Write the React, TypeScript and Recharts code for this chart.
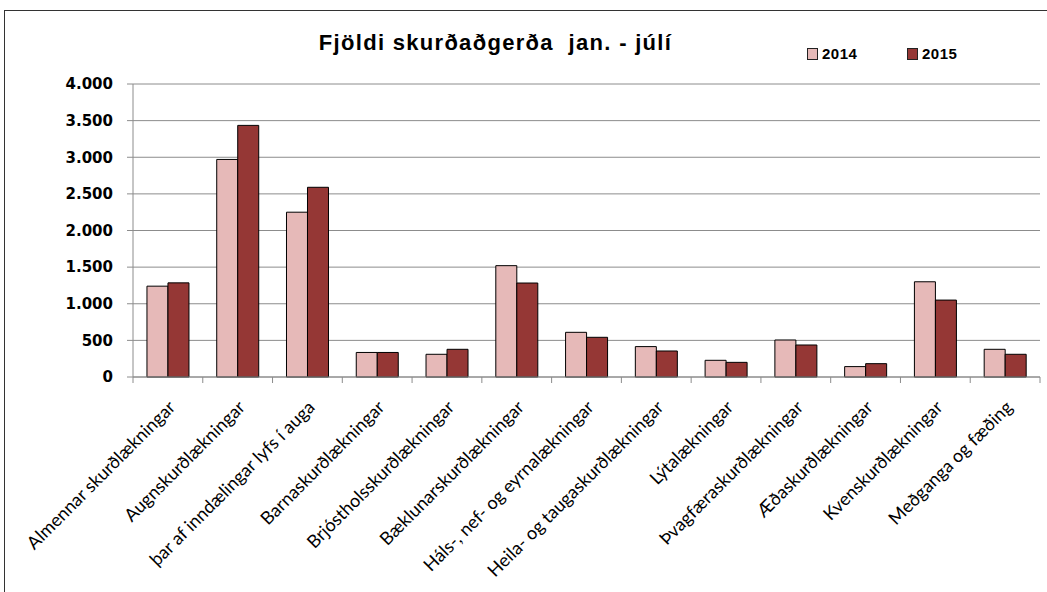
import React from "react";
import { Bar, BarChart, CartesianGrid, XAxis, YAxis } from "recharts";

// Fjöldi skurðaðgerða jan. - júlí, 2014 vs 2015
const categories = [
  "Almennar skurðlækningar",
  "Augnskurðlækningar",
  "þar af inndælingar lyfs í auga",
  "Barnaskurðlækningar",
  "Brjóstholsskurðlækningar",
  "Bæklunarskurðlækningar",
  "Háls-, nef- og eyrnalækningar",
  "Heila- og taugaskurðlækningar",
  "Lýtalækningar",
  "Þvagfæraskurðlækningar",
  "Æðaskurðlækningar",
  "Kvenskurðlækningar",
  "Meðganga og fæðing",
];
const values2014 = [1240, 2970, 2250, 335, 310, 1520, 610, 415, 228, 505, 142, 1300, 378];
const values2015 = [1285, 3435, 2590, 335, 378, 1283, 542, 355, 200, 437, 182, 1050, 310];
const yTicks = [0, 500, 1000, 1500, 2000, 2500, 3000, 3500, 4000];
const seriesNames = ["2014", "2015"];

const COLOR_2014 = "#e6b9b8";
const COLOR_2015 = "#953735";
const GRID = "#8c8c8c";

const W = 1047;
const H = 592;
const TOP = 84;
const PLOT_H = 293;
const Y_AXIS_W = 133;
const RIGHT = 7;
const BAND = (W - Y_AXIS_W - RIGHT) / categories.length;
const ZERO_Y = TOP + PLOT_H;

const data = categories.map((name, i) => ({
  name,
  y2014: values2014[i],
  y2015: values2015[i],
}));

const fmt = (v: number) => String(v).replace(/\B(?=(\d{3})+(?!\d))/g, ".");

// category labels sit at 45°, tick marks go between categories (Excel style)
function XTick(props: any) {
  const { x, payload, index } = props;
  const half = BAND / 2;
  return (
    <g>
      <line x1={x - half} x2={x - half} y1={ZERO_Y} y2={ZERO_Y + 6} stroke={GRID} />
      {index === categories.length - 1 && (
        <line x1={x + half} x2={x + half} y1={ZERO_Y} y2={ZERO_Y + 6} stroke={GRID} />
      )}
      <text
        transform={`translate(${x + 4},${ZERO_Y + 27}) rotate(-45)`}
        textAnchor="end"
        dy="0.35em"
        fontFamily="Lato, 'Open Sans', sans-serif"
        fontSize={18}
        fill="#000"
      >
        {payload.value}
      </text>
    </g>
  );
}

function LegendBox() {
  const colors = [COLOR_2014, COLOR_2015];
  return (
    <div style={{ position: "absolute", left: 807, top: 45, display: "flex" }}>
      {seriesNames.map((label, i) => (
        <div key={label} style={{ display: "flex", alignItems: "center", width: 100 }}>
          <span
            style={{
              display: "inline-block",
              width: 9,
              height: 10,
              background: colors[i],
              border: "1px solid #222",
              marginRight: 4,
            }}
          />
          <span
            style={{
              fontFamily: "'Liberation Sans', Arial, sans-serif",
              fontWeight: 700,
              fontSize: 15,
              letterSpacing: 0.5,
              color: "#000",
            }}
          >
            {label}
          </span>
        </div>
      ))}
    </div>
  );
}

export default function App() {
  return (
    <div
      style={{
        position: "absolute",
        left: 0,
        top: 0,
        width: W,
        height: H,
        overflow: "hidden",
        background: "#fff",
      }}
    >
      <div
        style={{
          position: "absolute",
          left: 4,
          top: 10,
          width: W + 20,
          height: H + 20,
          borderLeft: "1.5px solid #333",
          borderTop: "1.5px solid #333",
        }}
      />
      <div
        style={{
          position: "absolute",
          left: 8,
          width: 975,
          top: 30,
          textAlign: "center",
          fontFamily: "'Liberation Sans', Arial, sans-serif",
          fontWeight: 700,
          fontSize: 22,
          letterSpacing: 1.3,
          color: "#000",
          whiteSpace: "pre",
        }}
      >
        {"Fjöldi skurðaðgerða  jan. - júlí"}
      </div>
      <LegendBox />
      <div style={{ position: "absolute", left: 0, top: 0 }}>
        <BarChart
          width={W}
          height={H}
          data={data}
          margin={{ top: TOP, right: RIGHT, left: 0, bottom: 0 }}
          barCategoryGap="20%"
          barGap={0}
        >
          <CartesianGrid vertical={false} stroke={GRID} strokeWidth={1} />
          <XAxis
            dataKey="name"
            interval={0}
            height={H - ZERO_Y}
            tickLine={false}
            axisLine={{ stroke: GRID }}
            tick={<XTick />}
          />
          <YAxis
            width={Y_AXIS_W}
            domain={[0, 4000]}
            ticks={yTicks}
            tickFormatter={fmt}
            axisLine={{ stroke: GRID }}
            tickLine={{ stroke: GRID }}
            tickSize={6}
            tickMargin={14}
            tick={{
              fill: "#000",
              fontFamily: "'DejaVu Sans', Verdana, sans-serif",
              fontWeight: 700,
              fontSize: 15,
            }}
          />
          <Bar
            dataKey="y2014"
            name={seriesNames[0]}
            fill={COLOR_2014}
            stroke="#000"
            strokeWidth={1}
            isAnimationActive={false}
          />
          <Bar
            dataKey="y2015"
            name={seriesNames[1]}
            fill={COLOR_2015}
            stroke="#000"
            strokeWidth={1}
            isAnimationActive={false}
          />
        </BarChart>
      </div>
    </div>
  );
}
